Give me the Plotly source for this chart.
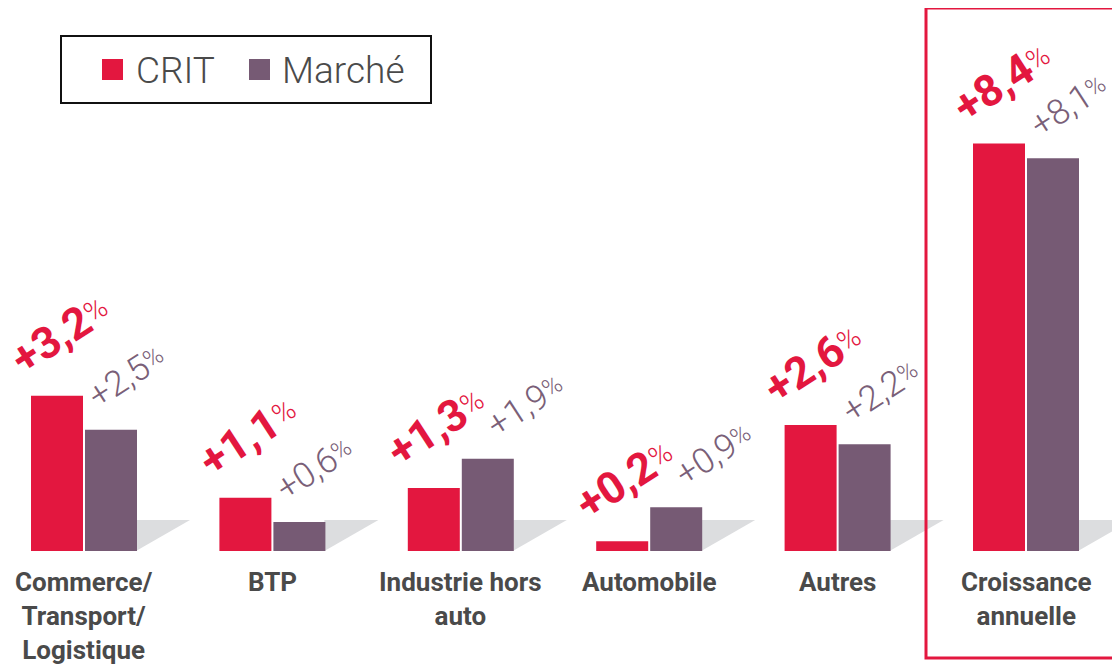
import plotly.graph_objects as go

categories = ["Commerce/<br>Transport/<br>Logistique", "BTP", "Industrie hors<br>auto",
              "Automobile", "Autres", "Croissance<br>annuelle"]
crit_values = [3.2, 1.1, 1.3, 0.2, 2.6, 8.4]
marche_values = [2.5, 0.6, 1.9, 0.9, 2.2, 8.1]
crit_labels = ["+3,2", "+1,1", "+1,3", "+0,2", "+2,6", "+8,4"]
marche_labels = ["+2,5", "+0,6", "+1,9", "+0,9", "+2,2", "+8,1"]

RED = "#e3173f"
PURPLE = "#765a74"
PURPLE_TXT = "#7a5f78"
GREY_TXT = "#4a4a4a"
FONT = "Roboto"

OFF = 8                # page body margin compensation
W, H = 1120 - OFF, 669 - OFF
PX_X = 188.4           # pixels per category unit
PX_Y = 48.5            # pixels per value unit
BASE = 551 - OFF       # baseline pixel (figure coords)
x0 = -(84 - OFF) / PX_X
x_range = [x0, x0 + W / PX_X]
y_range = [0, BASE / PX_Y]


def px(xp):
    return (xp - OFF) / W


def py(yp):
    return (BASE - (yp - OFF)) / BASE


bw = 52 / PX_X
idx = list(range(len(categories)))

fig = go.Figure()
fig.add_bar(x=idx, y=crit_values, width=bw, offset=-53 / PX_X, name="CRIT",
            marker=dict(color=RED, line=dict(width=0)))
fig.add_bar(x=idx, y=marche_values, width=bw, offset=1 / PX_X, name="Marché",
            marker=dict(color=PURPLE, line=dict(width=0)))

shapes = []
for i in idx:
    xa = i + 52 / PX_X
    xb = i + 106 / PX_X
    yt = 31 / PX_Y
    shapes.append(dict(type="path", xref="x", yref="y",
                       path=f"M {xa},0 L {xa},{yt} L {xb},{yt} Z",
                       fillcolor="#dcdddf", line=dict(width=0), layer="below"))

shapes.append(dict(type="rect", xref="paper", yref="paper",
                   x0=px(926), x1=1.05, y0=py(658), y1=py(8),
                   line=dict(color=RED, width=3), fillcolor="rgba(0,0,0,0)"))

shapes.append(dict(type="rect", xref="paper", yref="paper",
                   x0=px(61), x1=px(431), y0=py(103), y1=py(36),
                   line=dict(color="#111111", width=2), fillcolor="white"))
for (xl, col) in [(102, RED), (249, PURPLE)]:
    shapes.append(dict(type="rect", xref="paper", yref="paper",
                       x0=px(xl), x1=px(xl + 21), y0=py(80), y1=py(59),
                       line=dict(width=0), fillcolor=col))

annotations = []
for name, xl in [("CRIT", 134), ("Marché", 280)]:
    annotations.append(dict(text=name, xref="paper", yref="paper", x=px(xl), y=py(70),
                            xanchor="left", yanchor="middle", showarrow=False,
                            font=dict(family=FONT, size=37, color=GREY_TXT, weight=300)))

PCT_CRIT = '<span style="font-size:29px;baseline-shift:22%">%</span>'
PCT_MARCHE = '<span style="font-size:25px;baseline-shift:22%">%</span>'

for i in idx:
    annotations.append(dict(
        text=f"<b>{crit_labels[i]}</b>{PCT_CRIT}", x=i - 27 / PX_X, y=crit_values[i],
        xref="x", yref="y", xanchor="center", yanchor="middle", showarrow=False,
        xshift=3, yshift=62, textangle=-33,
        font=dict(family=FONT, size=44, color=RED, weight=300)))
    mshift = 16 if marche_values[i] < crit_values[i] else 38
    annotations.append(dict(
        text=f"{marche_labels[i]}{PCT_MARCHE}", x=i + 27 / PX_X, y=marche_values[i],
        xref="x", yref="y", xanchor="center", yanchor="middle", showarrow=False,
        xshift=mshift, yshift=53, textangle=-33,
        font=dict(family=FONT, size=35, color=PURPLE_TXT, weight=300)))
    annotations.append(dict(
        text=categories[i], x=i, y=0, xref="x", yref="y", xanchor="center", yanchor="top",
        yshift=-14, showarrow=False,
        font=dict(family=FONT, size=26, color=GREY_TXT, weight="bold")))

fig.update_layout(
    width=W, height=H, margin=dict(l=0, r=0, t=0, b=H - BASE),
    paper_bgcolor="white", plot_bgcolor="white", showlegend=False,
    xaxis=dict(range=x_range, visible=False),
    yaxis=dict(range=y_range, visible=False),
    shapes=shapes, annotations=annotations, barmode="overlay",
)
fig.write_html("out.html")
